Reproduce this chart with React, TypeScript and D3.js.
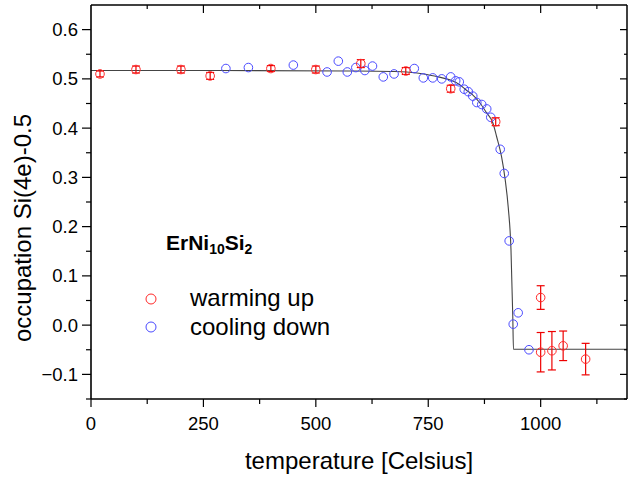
import React from "react";
import * as d3 from "d3";

// ---- data ----
const warmT = [20, 100, 200, 265, 400, 500, 600, 700, 800, 900, 1000, 1000, 1025, 1050, 1100];
const warmV = [0.510, 0.519, 0.519, 0.506, 0.521, 0.519, 0.531, 0.516, 0.480, 0.413, 0.056, -0.055, -0.052, -0.042, -0.069];
const warmErr = [0.006, 0.007, 0.007, 0.007, 0.006, 0.007, 0.008, 0.007, 0.007, 0.008, 0.024, 0.040, 0.039, 0.030, 0.032];

const coolT = [300, 350, 450, 525, 550, 570, 589, 609, 626, 650, 674, 719, 739, 760, 780, 800, 811, 819, 830, 839, 849, 858, 869, 880, 889, 910, 919, 930, 939, 950, 974];
const coolV = [0.521, 0.523, 0.528, 0.514, 0.536, 0.514, 0.523, 0.517, 0.526, 0.504, 0.510, 0.521, 0.502, 0.502, 0.500, 0.504, 0.496, 0.494, 0.479, 0.474, 0.465, 0.452, 0.448, 0.439, 0.422, 0.357, 0.308, 0.171, 0.002, 0.025, -0.050];

const fitT = [0, 286, 572, 668, 702, 747, 772, 798, 820, 835, 847, 865, 879, 894, 902, 913, 921, 928, 934, 938, 939.5, 1050, 1192];
const fitV = [0.517, 0.517, 0.516, 0.515, 0.514, 0.509, 0.504, 0.498, 0.488, 0.477, 0.469, 0.451, 0.432, 0.410, 0.383, 0.342, 0.296, 0.238, 0.153, 0.017, -0.049, -0.049, -0.049];

const xTicks = [0, 250, 500, 750, 1000];
const yTicks = [-0.1, 0.0, 0.1, 0.2, 0.3, 0.4, 0.5, 0.6];

const FONT = "'Liberation Sans', Arial, Helvetica, sans-serif";

export default function App() {
  const W = 628, H = 479;
  const x = d3.scaleLinear().domain([0, 1192]).range([91, 627]);
  const y = d3.scaleLinear().domain([-0.15, 0.65]).range([399, 5]);

  const line = d3.line<number>()
    .x((_, i) => x(fitT[i]))
    .y((v) => y(v))
    .curve(d3.curveMonotoneX);

  const xAllTicks = d3.range(0, 1192, 125);
  const yAllTicks = d3.range(-0.15, 0.651, 0.05).map((v) => Math.round(v * 100) / 100);

  const red = "#ff2a2a";
  const blue = "#4a4aff";

  return (
    <svg width={W} height={H} style={{ position: "absolute", left: 0, top: 0, background: "#fff" }} fontFamily={FONT}>
      <rect x={0} y={0} width={W} height={H} fill="#fff" />
      {/* fit line */}
      <path d={line(fitV) || ""} fill="none" stroke="#444" strokeWidth={1.1} />

      {/* cooling down */}
      {coolT.map((t, i) => (
        <circle key={"c" + i} cx={x(t)} cy={y(coolV[i])} r={4.3} fill="none" stroke={blue} strokeWidth={1} />
      ))}

      {/* warming up with error bars */}
      {warmT.map((t, i) => {
        const cx = x(t);
        const y1 = y(warmV[i] + warmErr[i]);
        const y2 = y(warmV[i] - warmErr[i]);
        return (
          <g key={"w" + i}>
            <line x1={cx} x2={cx} y1={y1} y2={y2} stroke="#ee0000" strokeWidth={1.2} />
            <line x1={cx - 4} x2={cx + 4} y1={y1} y2={y1} stroke="#ee0000" strokeWidth={1.2} />
            <line x1={cx - 4} x2={cx + 4} y1={y2} y2={y2} stroke="#ee0000" strokeWidth={1.2} />
            <circle cx={cx} cy={y(warmV[i])} r={4.3} fill="none" stroke={red} strokeWidth={1} />
          </g>
        );
      })}

      {/* frame */}
      <line x1={91} x2={627} y1={5} y2={5} stroke="#000" strokeWidth={1.5} />
      <line x1={627} x2={627} y1={5} y2={399} stroke="#000" strokeWidth={1.5} />
      <line x1={91} x2={627} y1={399} y2={399} stroke="#000" strokeWidth={1.6} />
      <line x1={91} x2={91} y1={5} y2={399} stroke="#000" strokeWidth={1.6} />

      {/* bottom & top ticks */}
      {xAllTicks.map((t) => {
        const major = t % 250 === 0;
        return (
          <g key={"xt" + t}>
            <line x1={x(t)} x2={x(t)} y1={399} y2={399 + (major ? 8 : 5)} stroke="#000" strokeWidth={1.2} />
            {t > 0 && <line x1={x(t)} x2={x(t)} y1={5} y2={5 + (major ? 8 : 4)} stroke="#000" strokeWidth={1.2} />}
          </g>
        );
      })}
      {/* left & right ticks */}
      {yAllTicks.map((v, i) => {
        const major = Math.abs(Math.round(v * 10) - v * 10) < 1e-6;
        if (v > 0.64) return null;
        return (
          <g key={"yt" + i}>
            <line x1={91} x2={91 - (major ? 9 : 5)} y1={y(v)} y2={y(v)} stroke="#000" strokeWidth={1.2} />
            <line x1={627} x2={627 - (major ? 7 : 3)} y1={y(v)} y2={y(v)} stroke="#000" strokeWidth={1.2} />
          </g>
        );
      })}

      {/* tick labels */}
      {xTicks.map((t) => (
        <text key={"xl" + t} x={x(t)} y={430} textAnchor="middle" fontSize={18.5} fill="#000">
          {t}
        </text>
      ))}
      {yTicks.map((v) => (
        <text key={"yl" + v} x={78} y={y(v) + 6.5} textAnchor="end" fontSize={18.5} fill="#000">
          {d3.format(".1f")(v)}
        </text>
      ))}

      {/* axis titles */}
      <text x={359} y={469} textAnchor="middle" fontSize={24} fill="#000">temperature [Celsius]</text>
      <text transform="translate(31,228) rotate(-90)" textAnchor="middle" fontSize={24} fill="#000">occupation Si(4e)-0.5</text>

      {/* compound label */}
      <text x={166} y={250} fontSize={21} fontWeight="bold" fill="#000">
        ErNi<tspan fontSize={14} dy={4}>10</tspan><tspan dy={-4}>Si</tspan><tspan fontSize={14} dy={4}>2</tspan>
      </text>

      {/* legend */}
      <circle cx={151} cy={299} r={5} fill="none" stroke={red} strokeWidth={1} />
      <text x={190} y={306} fontSize={24} fill="#000">warming up</text>
      <circle cx={151} cy={327} r={5} fill="none" stroke={blue} strokeWidth={1} />
      <text x={190} y={335} fontSize={24} fill="#000">cooling down</text>
    </svg>
  );
}
